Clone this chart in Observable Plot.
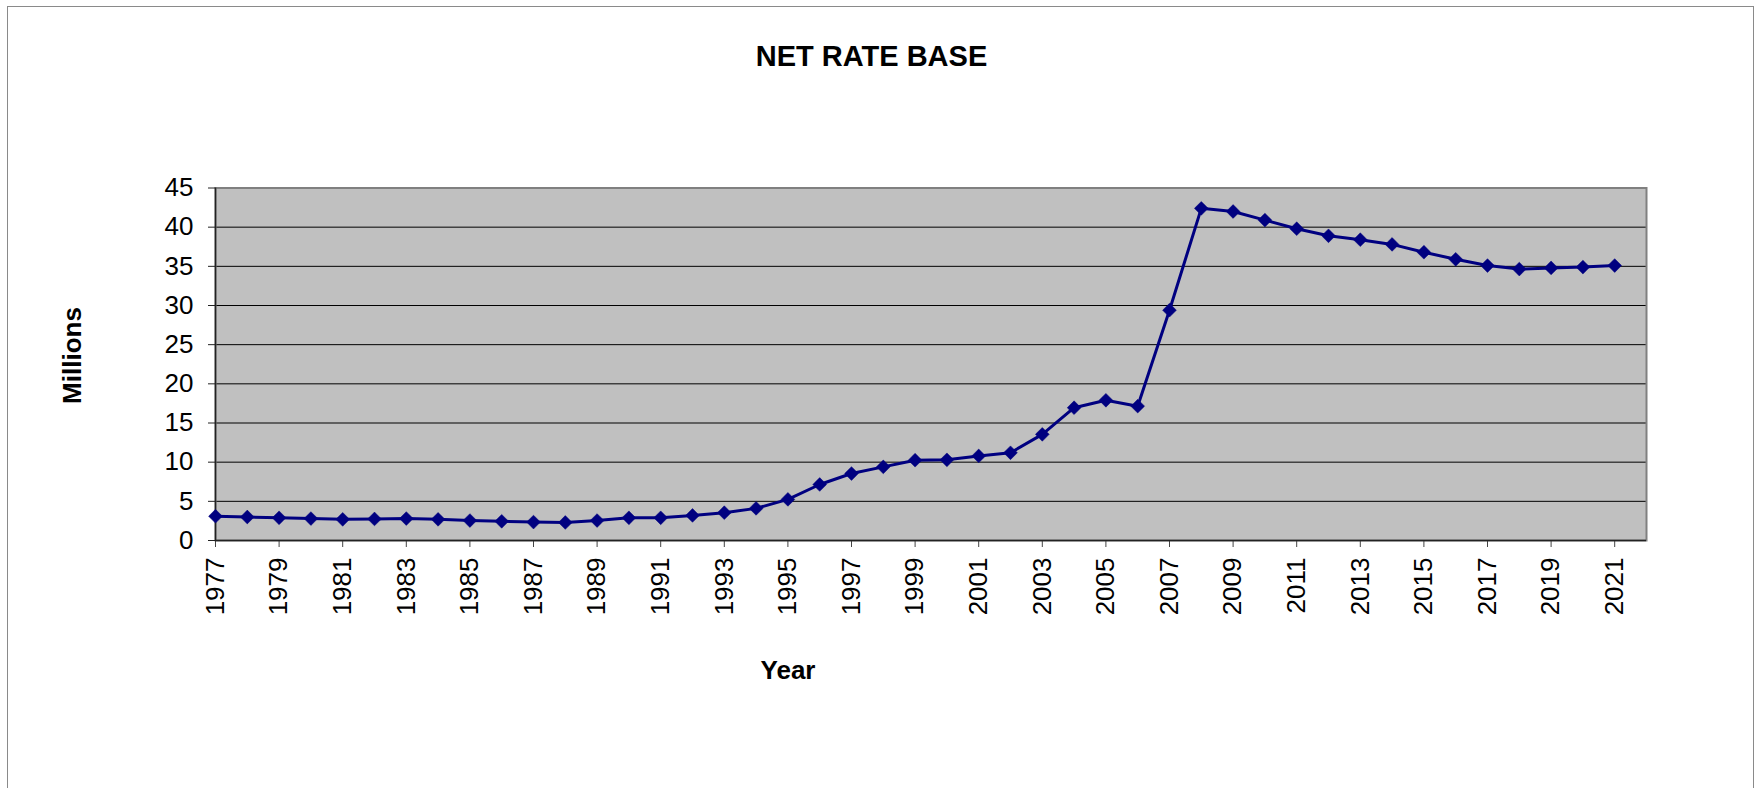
<!DOCTYPE html>
<html>
<head>
<meta charset="utf-8">
<script src="https://cdn.jsdelivr.net/npm/d3@7"></script>
<script src="https://cdn.jsdelivr.net/npm/@observablehq/plot@0.6"></script>
<style>
  html, body { margin: 0; padding: 0; background: #fff; overflow: hidden; }
  #wrap { position: relative; width: 1756px; height: 788px; overflow: hidden; }
  #border {
    position: absolute; left: 7px; top: 6px; width: 1747px; height: 820px;
    border: 1px solid #8a8a8a; box-sizing: border-box;
  }
  #chart { position: absolute; left: 0; top: 0; }
  svg { overflow: visible; }
</style>
</head>
<body>
<div id="wrap">
  <div id="border"></div>
  <div id="chart"></div>
</div>
<script>
// Net rate base by year, in millions
const years = [
  1977, 1978, 1979, 1980, 1981, 1982, 1983, 1984, 1985, 1986,
  1987, 1988, 1989, 1990, 1991, 1992, 1993, 1994, 1995, 1996,
  1997, 1998, 1999, 2000, 2001, 2002, 2003, 2004, 2005, 2006,
  2007, 2008, 2009, 2010, 2011, 2012, 2013, 2014, 2015, 2016,
  2017, 2018, 2019, 2020, 2021
];
const netRateBase = [
  3.1, 3.0, 2.9, 2.8, 2.7, 2.75, 2.8, 2.7, 2.55, 2.45,
  2.35, 2.3, 2.55, 2.9, 2.9, 3.2, 3.55, 4.1, 5.25, 7.15,
  8.55, 9.4, 10.25, 10.3, 10.8, 11.2, 13.55, 16.95, 17.9, 17.15,
  29.4, 42.4, 42.0, 40.9, 39.8, 38.9, 38.4, 37.8, 36.8, 35.9,
  35.1, 34.65, 34.8, 34.9, 35.1
];
const yTicks = [0, 5, 10, 15, 20, 25, 30, 35, 40, 45];
const xTicks = [
  1977, 1979, 1981, 1983, 1985, 1987, 1989, 1991, 1993, 1995, 1997,
  1999, 2001, 2003, 2005, 2007, 2009, 2011, 2013, 2015, 2017, 2019, 2021
];
const titleText = "NET RATE BASE";
const yTitle = "Millions";
const xTitle = "Year";

const rows = years.map((year, i) => ({year, value: netRateBase[i]}));

const font = "'Liberation Sans', Arial, Helvetica, sans-serif";
const navy = "#000080";

const chart = Plot.plot({
  width: 1756,
  height: 788,
  marginLeft: 215,
  marginRight: 110,
  marginTop: 187.5,
  marginBottom: 248,
  style: {fontFamily: font, fontSize: "26px", color: "#000", background: "transparent"},
  x: {type: "linear", domain: [1977, 2022], axis: null},
  y: {domain: [0, 45], axis: null},
  marks: [
    Plot.frame({fill: "#c0c0c0", stroke: null}),
    Plot.gridY(yTicks.filter(d => d > 0 && d < 45), {stroke: "#000", strokeOpacity: 1, strokeWidth: 1}),
    Plot.frame({stroke: "#808080", strokeWidth: 2, fill: null}),
    Plot.axisY(yTicks, {
      anchor: "left", tickSize: 7, tickPadding: 15, stroke: "#222",
      fontSize: 26, label: null, tickFormat: d => `${d}`
    }),
    Plot.axisX(xTicks, {
      anchor: "bottom", tickSize: 7, tickPadding: 10, tickRotate: -90, stroke: "#444",
      fontSize: 26, label: null, tickFormat: d => `${d}`
    }),
    Plot.ruleX([1977], {stroke: "#222", strokeWidth: 1.5}),
    Plot.ruleY([0], {stroke: "#222", strokeWidth: 1.5}),
    Plot.line(rows, {x: "year", y: "value", stroke: navy, strokeWidth: 3}),
    Plot.dot(rows, {x: "year", y: "value", symbol: "diamond2", r: 6.2, fill: navy, stroke: navy, strokeWidth: 0.5}),
    Plot.text([titleText], {
      frameAnchor: "top-left", dx: 871 - 215, dy: 65 - 187.5, lineAnchor: "bottom",
      textAnchor: "middle", fontSize: 29, fontWeight: "bold", fill: "#000"
    }),
    Plot.text([xTitle], {
      frameAnchor: "top-left", dx: 787.5 - 215, dy: 678 - 187.5, lineAnchor: "bottom",
      textAnchor: "middle", fontSize: 26, fontWeight: "bold", fill: "#000"
    }),
    Plot.text([yTitle], {
      frameAnchor: "top-left", dx: 80.5 - 215, dy: 355 - 187.5, lineAnchor: "bottom",
      textAnchor: "middle", rotate: -90, fontSize: 26, fontWeight: "bold", fill: "#000"
    })
  ]
});

document.getElementById("chart").appendChild(chart);
</script>
</body>
</html>
